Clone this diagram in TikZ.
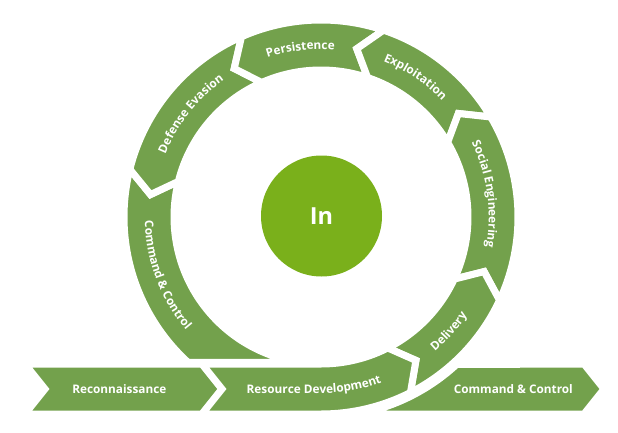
\documentclass[tikz,border=0pt]{standalone}
\usepackage{fontspec}
\setmainfont{Open Sans}
\usepackage{tikz}
\usepackage{xcolor}
\usetikzlibrary{decorations.text}

\definecolor{ringgreen}{RGB}{115,161,76}
\definecolor{coregreen}{RGB}{122,176,27}
\newcommand{\ringfont}{\fontsize{11.8}{14}\selectfont\bfseries\color{white}}

\begin{document}
\begin{tikzpicture}[x=1pt,y=1pt,
		stage/.style={fill=ringgreen,draw=white,line width=7pt,line join=miter},
		bandtext/.style={text=white,font=\ringfont,inner sep=0pt},
		arctext/.style={decorate,decoration={text along path,text align=center,text={|\ringfont|#1}}}]
			\useasboundingbox (0,0) rectangle (618,432);
			\coordinate (hub) at (321,215);
			
			
			\path[stage] ([shift={(hub)}]166:197) arc[start angle=166,end angle=227.6,radius=197] -- ([shift={(hub)}]261.8:147) arc[start angle=261.8,end angle=166,radius=147] -- ([shift={(hub)}]172.5:172) -- cycle;
			\path[stage] ([shift={(hub)}]113.8:197) -- ([shift={(hub)}]120.3:172) -- ([shift={(hub)}]113.8:147) arc[start angle=113.8,end angle=166,radius=147] -- ([shift={(hub)}]172.5:172) -- ([shift={(hub)}]166:197) arc[start angle=166,end angle=113.8,radius=197] -- cycle;
			\path[stage] ([shift={(hub)}]71.5:197) -- ([shift={(hub)}]78:172) -- ([shift={(hub)}]71.5:147) arc[start angle=71.5,end angle=113.8,radius=147] -- ([shift={(hub)}]120.3:172) -- ([shift={(hub)}]113.8:197) arc[start angle=113.8,end angle=71.5,radius=197] -- cycle;
			\path[stage] ([shift={(hub)}]30.5:197) -- ([shift={(hub)}]37:172) -- ([shift={(hub)}]30.5:147) arc[start angle=30.5,end angle=71.5,radius=147] -- ([shift={(hub)}]78:172) -- ([shift={(hub)}]71.5:197) arc[start angle=71.5,end angle=30.5,radius=197] -- cycle;
			\path[stage] ([shift={(hub)}]-25:197) -- ([shift={(hub)}]-18.5:172) -- ([shift={(hub)}]-25:147) arc[start angle=-25,end angle=30.5,radius=147] -- ([shift={(hub)}]37:172) -- ([shift={(hub)}]30.5:197) arc[start angle=30.5,end angle=-25,radius=197] -- cycle;
			\path[stage] ([shift={(hub)}]-63:197) -- ([shift={(hub)}]-56.5:172) -- ([shift={(hub)}]-63:147) arc[start angle=-63,end angle=-25,radius=147] -- ([shift={(hub)}]-18.5:172) -- ([shift={(hub)}]-25:197) arc[start angle=-25,end angle=-63,radius=197] -- cycle;
			
			
			\path[stage] (25,68) -- (45,43) -- (25,18) -- (202,18) -- (222,43) -- (202,68) -- cycle;
			\path[stage] (202,68) -- (222,43) -- (202,18) -- (321,18) arc[start angle=-90,end angle=-63,radius=197] -- ([shift={(hub)}]-56.5:172) -- ([shift={(hub)}]-63:147) arc[start angle=-63,end angle=-90,radius=147] -- cycle;
			\path[stage] (584,68) -- (604,43) -- (584,18) -- (358.3,18) arc[start angle=-79.25,end angle=-47.3,radius=200] -- cycle;
			
			
			\node[circle,fill=coregreen,minimum size=121pt,inner sep=0pt,text=white,font=\fontsize{23.5}{28}\selectfont\bfseries] (core) at (321.5,216) {In};
			
			
			\path[arctext=Persistence] ([shift={(hub)}]137:167.8) arc[start angle=137,end angle=57,radius=167.8];
			\path[arctext=Exploitation] ([shift={(hub)}]96:167.8) arc[start angle=96,end angle=16,radius=167.8];
			\path[arctext=Social Engineering] ([shift={(hub)}]48:167.8) arc[start angle=48,end angle=-32,radius=167.8];
			\path[arctext=Delivery] ([shift={(hub)}]-81.8:176.2) arc[start angle=-81.8,end angle=-1.8,radius=176.2];
			\path[arctext=Defense Evasion] ([shift={(hub)}]181.6:167.8) arc[start angle=181.6,end angle=101.6,radius=167.8];
			\path[arctext=Command {\&} Control] ([shift={(hub)}]160.6:176.2) arc[start angle=160.6,end angle=240.6,radius=176.2];
			\path[decorate,decoration={text along path,text={|\ringfont|Resource Development}}] (246.7,38.7) -- (321,38.7) arc[start angle=-90,end angle=-55,radius=176.3];
			
			\node[bandtext,anchor=base] (recon) at (119.3,38.7) {Reconnaissance};
			\node[bandtext,anchor=base] (cnc) at (513.3,38.7) {Command \& Control};
		\end{tikzpicture}
\end{document}
